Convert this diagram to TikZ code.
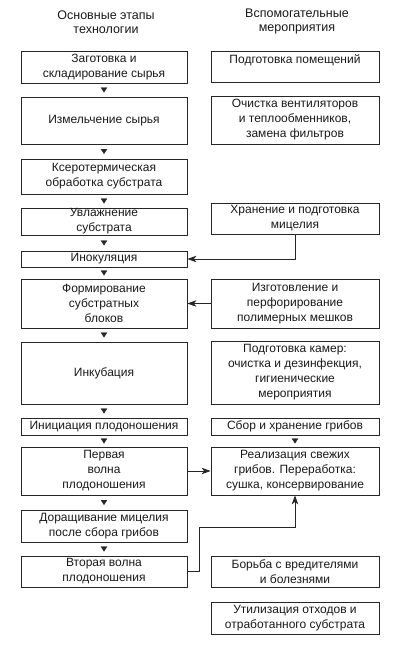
\documentclass[tikz,border=0pt]{standalone}
\usepackage{fontspec}
\setmainfont{Liberation Sans}
\usetikzlibrary{arrows.meta,decorations.markings}
\begin{document}
\begin{tikzpicture}[x=1pt,y=-1pt,
  box/.style={draw=black!85, line width=0.8pt, align=center, inner sep=0pt,
    font=\fontsize{12}{15}\selectfont, text=black!90},
  lbox/.style={box, minimum width=166pt},
  rbox/.style={box, minimum width=168pt},
  head/.style={align=center, inner sep=0pt, font=\fontsize{12.5}{14}\selectfont, text=black!90},
  dnarrow/.style={draw=none, color=black!85, decoration={markings,
    mark=at position 0.5 with {\arrow[xshift=2.5pt]{Triangle[length=5pt,width=6.5pt]}}},
    postaction={decorate}},
  link/.style={draw=black!85, line width=0.8pt, -{Stealth[length=9pt,width=6.5pt,inset=2.5pt]}}
]
\useasboundingbox (0,0) rectangle (400,645);

\node[head] (h1) at (106,22) {Основные этапы\\технологии};
\node[head] (h2) at (297,21.5) {Вспомогательные\\мероприятия};

\node[lbox, minimum height=32pt] (L1) at (104,67) {Заготовка и\\складирование сырья};
\node[lbox, minimum height=47pt] (L2) at (104,120.5) {Измельчение сырья};
\node[lbox, minimum height=35pt] (L3) at (104,176.5) {Ксеротермическая\\обработка субстрата};
\node[lbox, minimum height=27pt] (L4) at (104,221.5) {Увлажнение\\субстрата};
\node[lbox, minimum height=16pt] (L5) at (104,259) {Инокуляция};
\node[lbox, minimum height=49pt] (L6) at (104,303.5) {Формирование\\субстратных\\блоков};
\node[lbox, minimum height=62pt] (L7) at (104,373) {Инкубация};
\node[lbox, minimum height=17pt] (L8) at (104,426.5) {Инициация плодоношения};
\node[lbox, minimum height=48pt] (L9) at (104,471) {Первая\\волна\\плодоношения};
\node[lbox, minimum height=32pt] (L10) at (104,526) {Доращивание мицелия\\после сбора грибов};
\node[lbox, minimum height=31pt] (L11) at (104,571.5) {Вторая волна\\плодоношения};

\node[rbox, minimum height=31pt] (R1) at (295,66.5) {Подготовка помещений\\\mbox{}};
\node[rbox, minimum height=48pt] (R2) at (295,120) {Очистка вентиляторов\\и теплообменников,\\замена фильтров};
\node[rbox, minimum height=31pt] (R3) at (295,218.5) {Хранение и подготовка\\мицелия};
\node[rbox, minimum height=49pt] (R4) at (295,303.5) {Изготовление и\\перфорирование\\полимерных мешков};
\node[rbox, minimum height=63pt] (R5) at (295,372.5) {Подготовка камер:\\очистка и дезинфекция,\\гигиенические\\мероприятия};
\node[rbox, minimum height=17pt] (R6) at (295,426.5) {Сбор и хранение грибов};
\node[rbox, minimum height=48pt] (R7) at (295,471) {Реализация свежих\\грибов. Переработка:\\сушка, консервирование};
\node[rbox, minimum height=31pt] (R8) at (295,571.5) {Борьба с вредителями\\и болезнями};
\node[rbox, minimum height=32pt] (R9) at (295,618) {Утилизация отходов и\\отработанного субстрата};

\foreach \a/\b in {L1/L2,L2/L3,L3/L4,L4/L5,L5/L6,L6/L7,L7/L8,L8/L9,L9/L10,L10/L11,R6/R7}
  \path[dnarrow] (\a.south) -- (\b.north);

\coordinate (k1) at (199,527);
\draw[link] (R3.south) |- (L5.east);
\draw[link] (R4.west) -- (L6.east);
\draw[link] (L9.east) -- (R7.west);
\draw[link] (L11.east) -| (k1) -| (R7.south);
\end{tikzpicture}
\end{document}
